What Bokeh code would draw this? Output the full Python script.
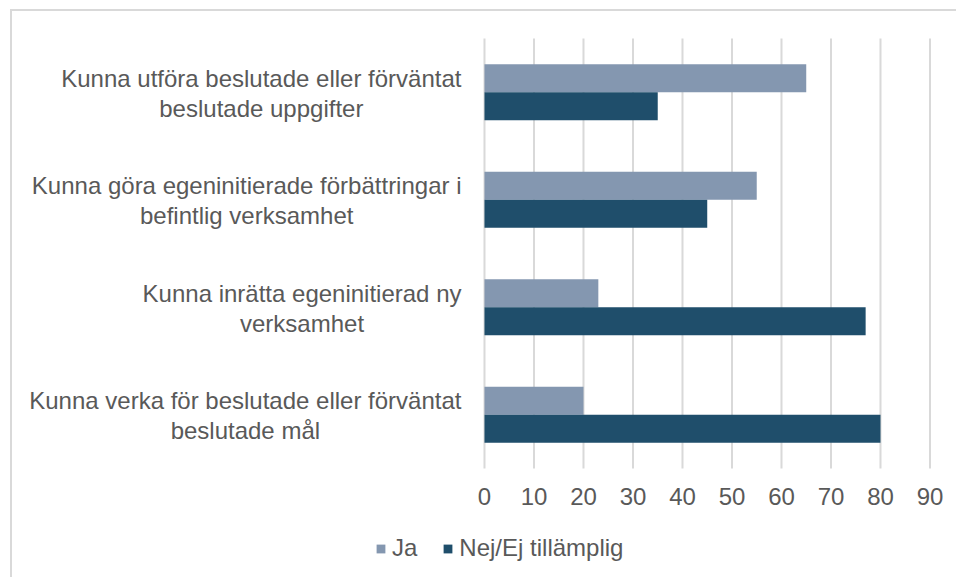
from bokeh.plotting import figure
from bokeh.models import Range1d, Legend, LegendItem, Label, ColumnDataSource
from bokeh.embed import file_html
from bokeh.resources import INLINE

categories = [
    "Kunna utföra beslutade eller förväntat\nbeslutade uppgifter",
    "Kunna göra egeninitierade förbättringar i\nbefintlig verksamhet",
    "Kunna inrätta egeninitierad ny\nverksamhet",
    "Kunna verka för beslutade eller förväntat\nbeslutade mål",
]
ja = [65, 55, 23, 20]
nej = [35, 45, 77, 80]
x_ticks = [0, 10, 20, 30, 40, 50, 60, 70, 80, 90]
series_names = ["Ja", "Nej/Ej tillämplig"]
colors = ["#8497B0", "#1F4E6B"]

FONT = "Liberation Sans"
TXT = "#595959"
GRID = "#D9D9D9"

n = len(categories)
pos = [n - i - 0.5 for i in range(n)]          # category slots, top to bottom
src = ColumnDataSource(dict(
    cat=categories, ja=ja, nej=nej,
    y_ja=[v + 0.13 for v in pos], y_nej=[v - 0.13 for v in pos],
))
tick_src = ColumnDataSource(dict(
    x=x_ticks, y0=[0] * len(x_ticks), y1=[n] * len(x_ticks),
    txt=[str(t) for t in x_ticks],
))

p = figure(
    x_range=Range1d(-95.35, 95.76),
    y_range=Range1d(-1.0326, 4.251),
    width=946, height=568,
    output_backend="svg", toolbar_location=None,
    min_border_left=0, min_border_right=0, min_border_top=0, min_border_bottom=0,
)
p.styles = {"margin-left": "10px", "margin-top": "9px",
            "border-left": "2px solid #D9D9D9", "border-top": "2px solid #D9D9D9"}
p.axis.visible = False
p.grid.visible = False
p.outline_line_color = None
p.background_fill_color = "white"
p.border_fill_color = "white"

# vertical grid lines at the value ticks
p.segment(x0="x", y0="y0", x1="x", y1="y1", source=tick_src,
          line_color=GRID, line_width=2)

r1 = p.hbar(y="y_ja", right="ja", left=0, height=0.26, source=src,
            fill_color=colors[0], line_color=None)
r2 = p.hbar(y="y_nej", right="nej", left=0, height=0.26, source=src,
            fill_color=colors[1], line_color=None)

# value tick labels under the grid
p.text(x="x", y="y0", text="txt", source=tick_src, y_offset=28,
       text_align="center", text_baseline="middle",
       text_font={"value": FONT}, text_font_size={"value": "24px"},
       text_color=TXT)

# category labels: lines centred, block right-aligned next to the bars
for cat, y in zip(categories, pos):
    p.add_layout(Label(
        x=0, y=y, x_offset=-23, y_offset=-1,
        text=cat, anchor="center_right", text_align="center",
        text_font=FONT, text_font_size="24px", text_color=TXT,
        text_line_height=1.1,
    ))

legend = Legend(
    items=[LegendItem(label=series_names[0], renderers=[r1]),
           LegendItem(label=series_names[1], renderers=[r2])],
    orientation="horizontal",
    location=(363, 17),
    padding=0, margin=0, spacing=25,
    glyph_width=11, glyph_height=11, label_standoff=6,
    label_text_font=FONT, label_text_font_size="24px", label_text_color=TXT,
    border_line_color=None, background_fill_alpha=0,
)
p.add_layout(legend, "center")

open("out.html", "w").write(file_html(p, INLINE))
